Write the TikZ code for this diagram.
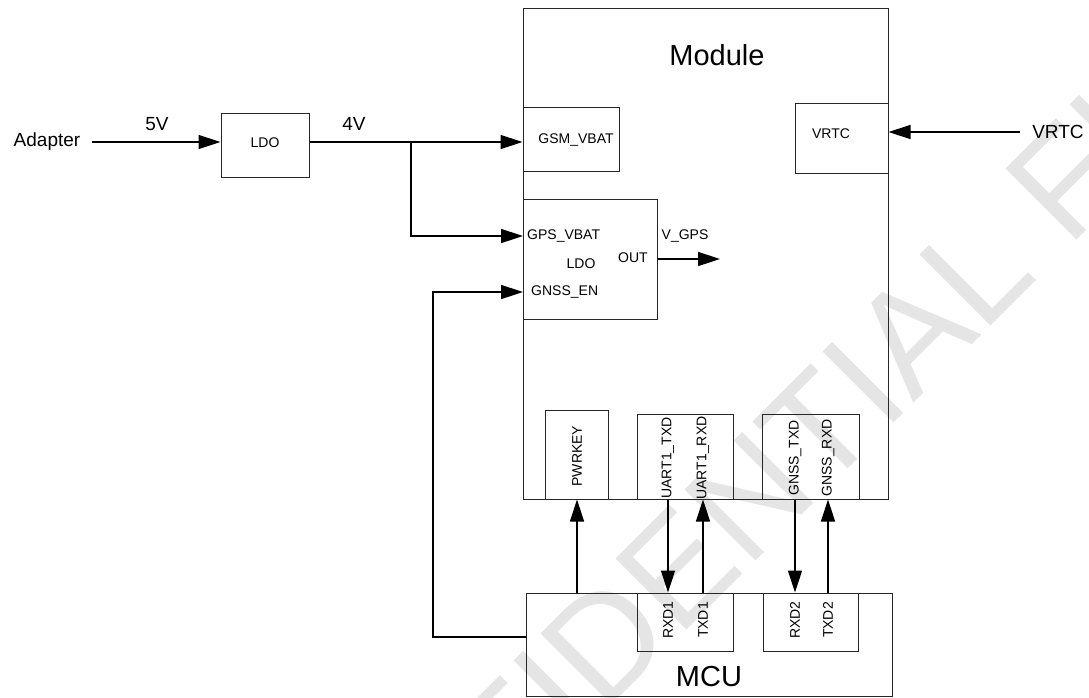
\documentclass[tikz,border=0pt]{standalone}
\usepackage{fontspec}
\setmainfont{Liberation Sans}
\usetikzlibrary{arrows.meta,calc}
\begin{document}
\begin{tikzpicture}[x=1pt,y=-1pt,
  box/.style={draw=black!85, line width=1pt, inner sep=0pt, rectangle},
  conn/.style={line width=1.5pt, black},
  arr/.style={conn,-{Triangle[length=22pt,width=14pt]}},
  sm/.style={font=\fontsize{14}{16}\selectfont, inner sep=0pt},
  md/.style={font=\fontsize{19}{22}\selectfont, inner sep=0pt},
  lg/.style={font=\fontsize{29}{34}\selectfont, inner sep=0pt},
  wm/.style={text=black!10, font=\fontsize{146}{150}\selectfont, inner sep=0pt, rotate=45}]
\useasboundingbox (0,0) rectangle (1089,697);
% watermark
\begin{scope}
\clip (0,0) rectangle (1089,697);
\node[wm, anchor=base east] (wm1) at (1039.9,277.1) {CONFIDENTIAL};
\node[wm, anchor=base west] (wm2) at (1068.6,248.4) {FILE};
\end{scope}
% boxes
\node[box, minimum width=88pt, minimum height=64pt] (ldo1) at (265,145) {};
\node[sm] (ldo1t) at (265,143) {LDO};
\node[box, minimum width=365pt, minimum height=491pt] (module) at (705.5,253.5) {};
\node[lg] (modt) at (717,55) {Module};
\node[box, minimum width=96pt, minimum height=64pt] (gsm) at (571,139) {};
\node[sm] (gsmt) at (576,140) {GSM\_VBAT};
\node[box, minimum width=93pt, minimum height=70pt] (vrtc) at (841.5,138) {};
\node[sm] (vrtct) at (831,134) {VRTC};
\node[box, minimum width=134pt, minimum height=120pt] (ldo2) at (590,259) {};
\node[sm, anchor=west] (gpst) at (527,236) {GPS\_VBAT};
\node[sm] (ldo2t) at (581,264) {LDO};
\node[sm] (outt) at (633,258) {OUT};
\node[sm, anchor=west] (ent) at (531,292) {GNSS\_EN};
\node[sm] (vgpst) at (685,236) {V\_GPS};
\node[box, minimum width=63pt, minimum height=89pt] (pwr) at (577,454.5) {};
\node[box, minimum width=96pt, minimum height=85pt] (uart) at (685,456.5) {};
\node[box, minimum width=97pt, minimum height=85pt] (gnss) at (810.5,456.5) {};
\node[sm, rotate=90] (pwrt) at (577,456) {PWRKEY};
\node[sm, rotate=90] (utx) at (668,458) {UART1\_TXD};
\node[sm, rotate=90] (urx) at (703,458) {UART1\_RXD};
\node[sm, rotate=90] (gtx) at (795,458) {GNSS\_TXD};
\node[sm, rotate=90] (grx) at (828,458) {GNSS\_RXD};
\node[box, minimum width=366pt, minimum height=103pt] (mcu) at (709,644.5) {};
\node[box, minimum width=96pt, minimum height=58pt] (u1) at (685,622) {};
\node[box, minimum width=95pt, minimum height=58pt] (u2) at (810.5,622) {};
\node[sm, rotate=90] (rxd1) at (668,620) {RXD1};
\node[sm, rotate=90] (txd1) at (703,620) {TXD1};
\node[sm, rotate=90] (rxd2) at (795,620) {RXD2};
\node[sm, rotate=90] (txd2) at (828,620) {TXD2};
\node[lg] (mcut) at (709,677) {MCU};
% outer labels
\node[md] (adapter) at (47,142) {Adapter};
\node[md] (v5) at (157,124) {5V};
\node[md] (v4) at (354,124) {4V};
\node[md] (vrtcin) at (1058,132) {VRTC};
% connectors
\coordinate (adp) at (92,142);
\coordinate (j) at (411,142);
\coordinate (gpsin) at (523,236);
\coordinate (enL) at (433,637);
\coordinate (enin) at (523,292);
\coordinate (vgpsend) at (720,259);
\coordinate (vs) at (1020,132);
\draw[arr] (adp) -- (ldo1.west |- adp);
\draw[conn] (ldo1.east |- j) -- (j);
\draw[arr] (j) -- (gsm.west |- j);
\draw[arr] (j) |- (gpsin);
\draw[arr] (mcu.west |- enL) -- (enL) |- (enin);
\draw[arr] (ldo2.east) -- (vgpsend);
\draw[arr] (vs) -- (vrtc.east |- vs);
\draw[arr] (mcu.north -| pwr.south) -- (pwr.south);
\draw[arr] (uart.south -| utx) -- (u1.north -| rxd1);
\draw[arr] (u1.north -| txd1) -- (uart.south -| urx);
\draw[arr] (gnss.south -| gtx) -- (u2.north -| rxd2);
\draw[arr] (u2.north -| txd2) -- (gnss.south -| grx);
\end{tikzpicture}
\end{document}
